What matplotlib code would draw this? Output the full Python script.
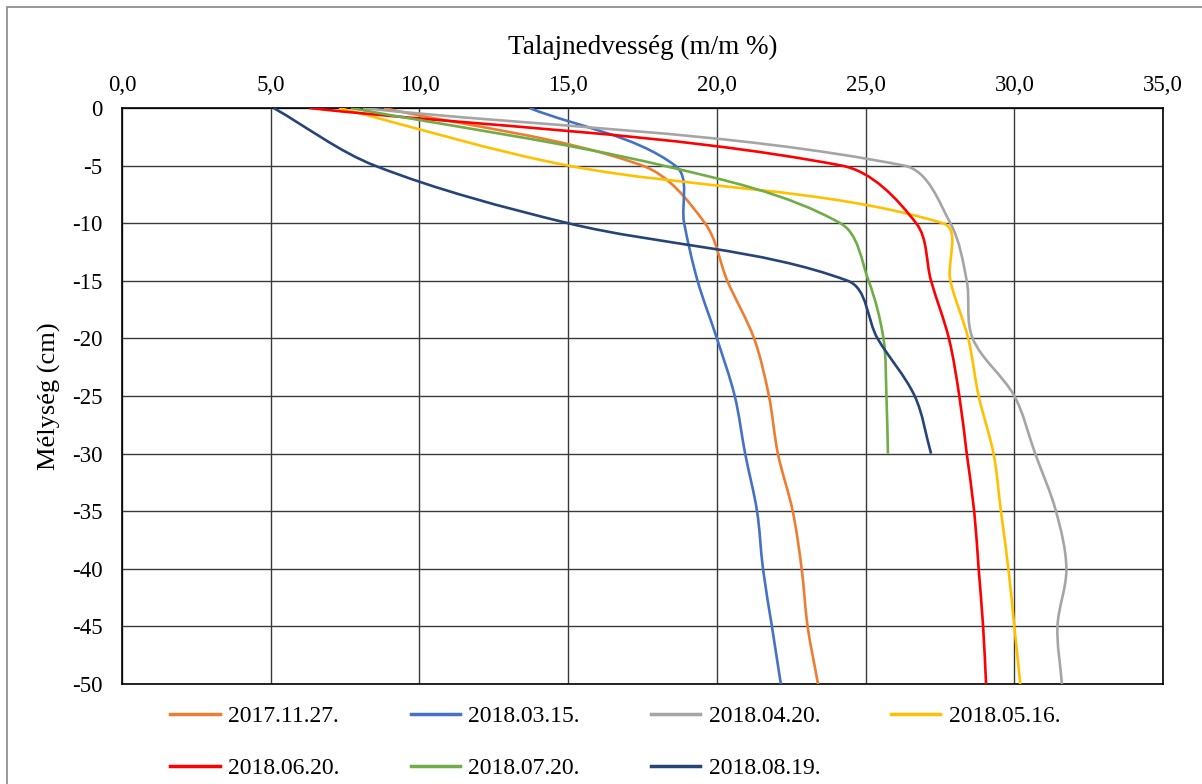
import matplotlib.pyplot as plt
from matplotlib.path import Path
from matplotlib.patches import PathPatch, Rectangle
from matplotlib.lines import Line2D
import numpy as np

plt.rcParams['font.family'] = ['Liberation Serif', 'DejaVu Serif']
plt.rcParams['axes.unicode_minus'] = False

# talajnedvesség (m/m %) mélység szerint
depth = [0, -5, -10, -15, -20, -25, -30, -35, -40, -45, -50]
depth_short = [0, -5, -10, -15, -20, -25, -30]

d_20171127 = [8.8, 17.5, 19.6, 20.35, 21.25, 21.75, 22.05, 22.55, 22.85, 23.05, 23.4]
d_20180315 = [13.7, 18.6, 18.9, 19.35, 20.0, 20.6, 20.95, 21.35, 21.55, 21.85, 22.15]
d_20180420 = [8.1, 26.3, 27.85, 28.4, 28.6, 30.0, 30.7, 31.4, 31.75, 31.45, 31.6]
d_20180516 = [7.3, 15.0, 27.6, 27.85, 28.45, 28.8, 29.3, 29.55, 29.8, 30.0, 30.2]
d_20180620 = [6.3, 24.2, 26.7, 27.2, 27.8, 28.15, 28.4, 28.65, 28.8, 28.95, 29.05]
d_20180720 = [7.7, 18.2, 24.15, 25.1, 25.6, 25.7, 25.75]
d_20180819 = [5.1, 8.5, 15.0, 24.4, 25.4, 26.65, 27.2]

labels = ['2017.11.27.', '2018.03.15.', '2018.04.20.', '2018.05.16.',
          '2018.06.20.', '2018.07.20.', '2018.08.19.']
series = [d_20171127, d_20180315, d_20180420, d_20180516,
          d_20180620, d_20180720, d_20180819]
colors = ['#ED7D31', '#4472C4', '#A5A5A5', '#FFC000',
          '#FF0000', '#70AD47', '#264478']


def smooth_path(ax, xs, ys, k=0.33):
    # smoothed line: cubic bezier through every point, tangents worked out
    # in screen space so the curve does not overshoot on uneven steps
    p = ax.transData.transform(np.column_stack([xs, ys]))
    n = len(p)

    def tangent(i):
        t = p[min(i + 1, n - 1)] - p[max(i - 1, 0)]
        return t / np.hypot(*t)

    verts = [p[0]]
    codes = [Path.MOVETO]
    for i in range(n - 1):
        d = np.hypot(*(p[i + 1] - p[i]))
        c1 = p[i] + tangent(i) * d * k
        c2 = p[i + 1] - tangent(i + 1) * d * k
        verts += [c1, c2, p[i + 1]]
        codes += [Path.CURVE4] * 3
    verts = ax.transData.inverted().transform(np.array(verts))
    return Path(verts, codes)


fig = plt.figure(figsize=(12.02, 7.84), dpi=100)
ax = fig.add_axes([0.1015, 0.1276, 0.8661, 0.7346])
ax.set_xlim(0, 35)
ax.set_ylim(-50, 0)

handles = []
for vals, lab, col in zip(series, labels, colors):
    d = depth if len(vals) == len(depth) else depth_short
    ax.add_patch(PathPatch(smooth_path(ax, vals, d), facecolor='none',
                           edgecolor=col, lw=1.9, zorder=3))
    handles.append(Line2D([], [], color=col, lw=2.5, label=lab))

ax.set_xticks(np.arange(0, 36, 5))
ax.set_yticks(np.arange(-50, 1, 5))
ax.set_xticklabels([f'{v:.1f}'.replace('.', ',') for v in np.arange(0, 36, 5)])
ax.set_yticklabels([str(v) for v in np.arange(-50, 1, 5)])
ax.xaxis.tick_top()
ax.xaxis.set_label_position('top')
ax.tick_params(axis='x', length=0, pad=9, labelsize=16.5)
ax.tick_params(axis='y', length=0, pad=14, labelsize=16.5)
ax.grid(True, color='#3a3a3a', lw=1, zorder=1)
for s in ax.spines.values():
    s.set_color('black')
    s.set_linewidth(1.2)

ax.set_xlabel('Talajnedvesség (m/m %)', fontsize=19.5, labelpad=15)
ax.set_ylabel('Mélység (cm)', fontsize=19, labelpad=8)

# legend filled row by row: 4 in the first row, 3 in the second
order = [0, 4, 1, 5, 2, 6, 3]
fig.legend(handles=[handles[i] for i in order], ncol=4, frameon=False,
           fontsize=17, loc='upper left', bbox_to_anchor=(0.132, 0.115),
           handlelength=2.1, handletextpad=0.35, columnspacing=3.0,
           labelspacing=1.3, borderpad=0)

fig.add_artist(Rectangle((7 / 1202, -0.1), 1.2, 1 - 7 / 784 + 0.1,
                         transform=fig.transFigure, fill=False,
                         edgecolor='#888888', lw=1.2))

fig.savefig('out.png', dpi=100)
